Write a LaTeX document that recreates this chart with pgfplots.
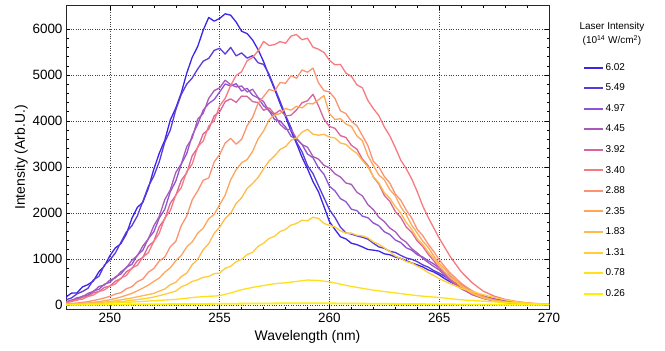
\documentclass[border=0pt]{standalone}
\usepackage{fontspec}
\setmainfont{Liberation Sans}
\usepackage{pgfplots}
\usepackage{pgfplotstable}
\pgfplotsset{compat=1.18}
\definecolor{cA}{HTML}{3A26E6}
\definecolor{cB}{HTML}{5A3ADB}
\definecolor{cC}{HTML}{8E55D2}
\definecolor{cD}{HTML}{A85AB8}
\definecolor{cE}{HTML}{D8649A}
\definecolor{cF}{HTML}{F77A80}
\definecolor{cG}{HTML}{FB9372}
\definecolor{cH}{HTML}{FDA65E}
\definecolor{cI}{HTML}{FFBA4E}
\definecolor{cJ}{HTML}{FFCC3A}
\definecolor{cK}{HTML}{FFE01A}
\definecolor{cL}{HTML}{FFF000}
\pgfplotstableread{
x a b c d e f g h i j k l
248 170 110 60 70 50 50 20 15 10 5 5 0
248.25 255 150 105 95 90 70 30 20 15 8 8 2
248.5 260 240 125 155 100 110 40 25 20 10 10 3
248.75 390 290 190 175 165 125 55 32 25 12 12 4
249 440 360 210 250 190 180 70 40 30 15 15 5
249.25 520 545 300 290 265 215 95 55 40 22 20 5
249.5 720 620 340 400 290 290 120 70 50 30 25 6
249.75 845 865 450 430 380 325 150 90 60 40 32 7
250 1070 980 490 540 410 410 185 110 70 50 40 8
250.25 1240 1130 610 585 515 455 235 140 90 60 45 9
250.5 1330 1360 670 720 570 580 265 170 110 70 50 10
250.75 1540 1585 820 805 720 640 350 210 130 85 55 10
251 1880 1720 880 970 790 800 395 250 150 100 60 11
251.25 2120 1935 1080 1070 960 860 505 305 175 115 68 12
251.5 2230 2250 1190 1280 1030 1040 560 365 200 130 75 12
251.75 2535 2575 1440 1435 1275 1135 710 430 225 150 82 13
252 2950 2800 1590 1720 1380 1380 790 510 250 170 90 14
252.25 3300 3115 1890 1925 1700 1560 955 585 300 200 98 15
252.5 3580 3540 2080 2290 1870 1890 1040 710 345 230 105 15
252.75 4020 3800 2460 2500 2210 2050 1265 805 440 265 112 16
253 4280 4240 2690 2880 2380 2390 1380 960 490 300 120 17
253.25 4610 4575 3060 3065 2710 2550 1725 1075 615 390 132 18
253.5 5040 4800 3290 3440 2870 2900 1930 1260 690 440 145 18
253.75 5385 4935 3685 3630 3245 3065 2285 1370 875 510 158 19
254 5620 5130 3930 4040 3420 3440 2480 1560 990 545 170 20
254.25 5975 5300 4235 4165 3720 3565 2710 1670 1200 600 178 20
254.5 6250 5360 4380 4490 3820 3890 2760 1870 1330 615 185 21
254.75 6170 5535 4465 4660 4110 4005 3110 1970 1555 680 192 22
255 6230 5580 4630 4720 4200 4330 3270 2180 1690 690 200 23
255.25 6330 5455 4805 4885 4420 4490 3520 2385 1880 795 230 24
255.5 6300 5600 4760 4790 4480 4770 3620 2720 1990 840 260 25
255.75 6150 5415 4810 4740 4405 4990 3495 2940 2205 940 295 26
256 5950 5480 4650 4760 4540 5070 3600 3090 2330 990 330 27
256.25 5900 5365 4710 4630 4535 5310 3895 3160 2530 1095 355 28
256.5 5760 5420 4560 4690 4420 5380 4080 3340 2640 1140 380 29
256.75 5550 5265 4500 4510 4400 5525 4385 3610 2770 1275 400 30
257 5290 5230 4330 4420 4230 5730 4530 3780 2960 1340 420 30
257.25 4980 5015 4225 4215 4285 5640 4685 4025 3130 1445 440 31
257.5 4690 4720 4030 4130 4150 5660 4650 4130 3240 1490 460 32
257.75 4380 4430 4000 3925 4235 5725 4835 4160 3380 1595 470 33
258 4090 4120 3870 3820 4110 5690 4820 4270 3440 1640 480 34
258.25 3780 3855 3665 3810 4125 5845 4985 4235 3580 1735 495 35
258.5 3510 3540 3610 3620 4240 5880 4930 4320 3630 1770 510 35
258.75 3210 3330 3490 3485 4395 5765 5110 4285 3755 1840 525 36
259 2960 3030 3280 3430 4440 5800 5060 4380 3820 1830 540 36
259.25 2680 2855 3200 3225 4580 5605 5150 4370 3710 1905 535 36
259.5 2460 2590 2980 3170 4330 5560 4830 4460 3690 1880 530 35
259.75 2140 2330 2840 3035 4040 5490 4660 4550 3710 1770 515 34
260 1810 2070 2580 2980 3880 5320 4630 4160 3650 1730 500 33
260.25 1640 1900 2480 2850 3840 5220 4490 4030 3630 1695 475 32
260.5 1480 1690 2310 2780 3680 5230 4220 4050 3520 1610 450 31
260.75 1435 1565 2245 2650 3640 5040 4160 3935 3490 1560 425 30
261 1340 1540 2080 2620 3470 4970 3990 3880 3380 1560 400 29
261.25 1310 1500 2050 2450 3385 4785 3895 3675 3295 1515 380 28
261.5 1260 1470 1930 2370 3170 4720 3680 3570 3140 1500 360 27
261.75 1205 1430 1895 2180 3035 4445 3465 3245 3000 1460 340 26
262 1190 1340 1780 2070 2780 4270 3120 3030 2790 1370 320 25
262.25 1170 1260 1720 1905 2630 4115 3000 2825 2650 1320 305 24
262.5 1110 1230 1590 1810 2380 3870 2790 2720 2440 1240 290 23
262.75 1090 1165 1530 1670 2250 3675 2650 2505 2320 1160 275 22
263 1040 1140 1410 1590 2030 3420 2410 2370 2140 1060 260 21
263.25 1010 1075 1355 1445 1900 3145 2275 2130 1995 1010 245 20
263.5 960 1020 1240 1360 1690 2960 2060 1960 1790 940 230 19
263.75 910 990 1190 1220 1575 2735 1885 1730 1640 910 215 18
264 870 940 1090 1130 1390 2460 1640 1560 1440 840 200 17
264.25 825 870 1040 1010 1270 2150 1505 1385 1315 780 190 16
264.5 760 820 960 920 1100 1900 1320 1250 1150 700 180 15
264.75 715 745 890 835 960 1675 1160 1065 1010 640 170 14
265 650 690 800 760 800 1450 980 900 850 570 160 13
265.25 570 620 705 645 685 1250 830 780 720 515 148 12
265.5 500 540 620 520 560 1050 690 650 600 460 135 11
265.75 445 475 530 440 460 885 585 535 505 410 122 10
266 380 420 450 350 370 720 470 430 400 360 110 9
266.25 320 355 375 290 300 600 385 350 325 325 102 8
266.5 270 280 300 220 230 480 300 270 250 290 95 8
266.75 225 235 245 180 185 390 240 215 200 255 88 7
267 180 190 190 140 140 300 180 160 150 220 80 7
267.25 150 160 155 115 112 245 145 130 120 190 72 6
267.5 120 130 120 90 85 190 110 100 90 160 65 6
267.75 100 110 98 72 68 155 90 80 70 135 58 5
268 80 90 75 55 50 120 70 60 50 110 50 5
268.25 65 72 60 45 40 98 58 50 40 90 45 4
268.5 50 55 45 35 30 75 45 40 30 70 40 4
268.75 40 42 35 28 25 60 38 32 25 55 35 3
269 30 30 25 20 20 45 30 25 20 40 30 3
269.25 22 22 18 15 15 35 22 18 15 32 25 3
269.5 15 15 12 10 10 25 15 12 10 25 20 2
269.75 10 10 8 7 7 20 12 8 7 20 17 2
270 5 5 5 5 5 15 10 5 5 15 15 2
}\spectra
\begin{document}
\begin{tikzpicture}
\begin{axis}[
  scale only axis,
  width=483bp, height=303bp,
  xmin=248, xmax=270, ymin=-90, ymax=6500,
  xtick={250,255,...,270},
  ytick={0,1000,...,6000},
  minor x tick num=4,
  minor y tick num=4,
  tick align=inside,
  major tick length=4bp, minor tick length=2.5bp,
  tick style={black, line width=0.5bp},
  scaled ticks=false,
  /pgf/number format/1000 sep={},
  /pgf/number format/assume math mode=true,
  tick label style={font=\fontsize{13.5}{15}\selectfont},
  xticklabel style={yshift=-1bp},
  grid=major,
  major grid style={dotted, black!75, line width=0.7bp},
  axis line style={black!85, line width=1bp},
  xlabel={Wavelength (nm)},
  ylabel={Intensity (Arb.U.)},
  label style={font=\fontsize{14}{16}\selectfont},
  xlabel style={yshift=-1bp},
  ylabel style={yshift=-2bp},
  every axis plot/.append style={line width=1.3bp, line join=round},
  legend cell align=left,
  legend style={at={(1.07,0.816)}, anchor=north west, draw=none, fill=none,
    font=\fontsize{10}{12}\selectfont, inner sep=0pt,
    row sep=9.1bp,
    nodes={inner sep=1.5bp}},
  legend image code/.code={\draw[#1, line width=2bp] (0bp,0bp) -- (19bp,0bp);},
]
\addplot[cA] table[x=x,y=a]{\spectra};
\addlegendentry{6.02}
\addplot[cB] table[x=x,y=b]{\spectra};
\addlegendentry{5.49}
\addplot[cC] table[x=x,y=c]{\spectra};
\addlegendentry{4.97}
\addplot[cD] table[x=x,y=d]{\spectra};
\addlegendentry{4.45}
\addplot[cE] table[x=x,y=e]{\spectra};
\addlegendentry{3.92}
\addplot[cF] table[x=x,y=f]{\spectra};
\addlegendentry{3.40}
\addplot[cG] table[x=x,y=g]{\spectra};
\addlegendentry{2.88}
\addplot[cH] table[x=x,y=h]{\spectra};
\addlegendentry{2.35}
\addplot[cI] table[x=x,y=i]{\spectra};
\addlegendentry{1.83}
\addplot[cJ] table[x=x,y=j]{\spectra};
\addlegendentry{1.31}
\addplot[cK] table[x=x,y=k]{\spectra};
\addlegendentry{0.78}
\addplot[cL, line width=1.8bp] table[x=x,y=l]{\spectra};
\addlegendentry{0.26}
\end{axis}
\node[align=center, font=\fontsize{10}{14.5}\selectfont, anchor=center] at (546bp,275bp)
  {Laser Intensity\\(10\textsuperscript{14} W/cm\textsuperscript{2})};
\pgfresetboundingbox
\path (-66bp,-42bp) rectangle (599bp,309bp);
\end{tikzpicture}
\end{document}
